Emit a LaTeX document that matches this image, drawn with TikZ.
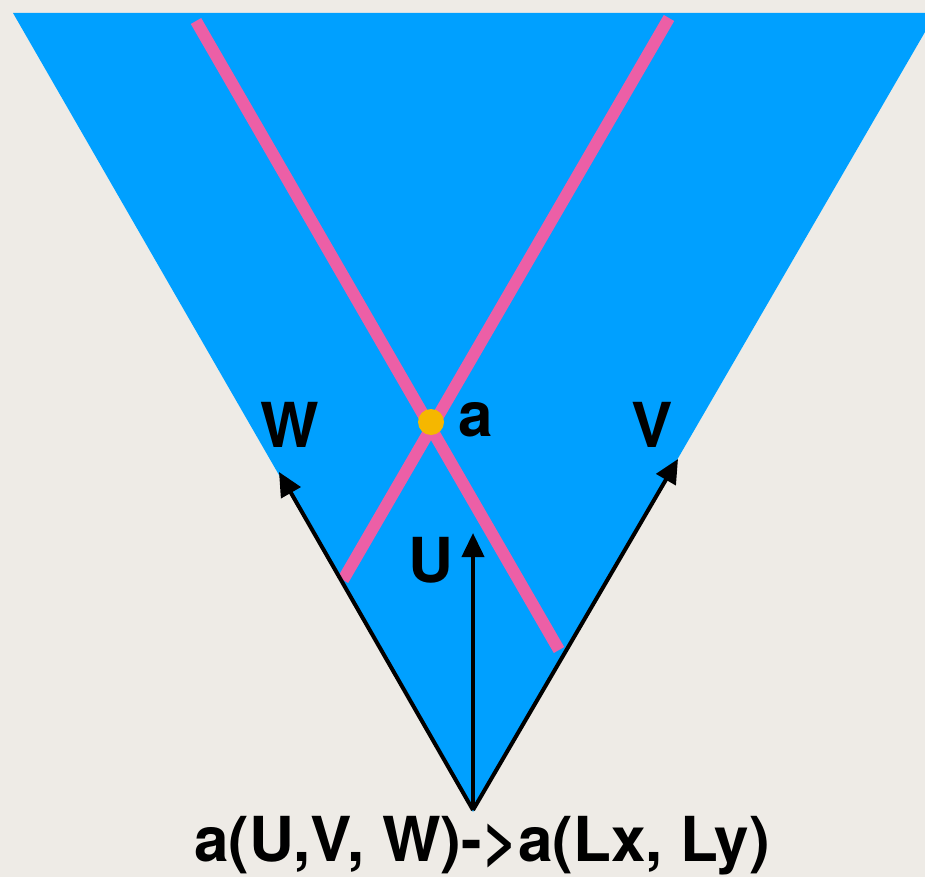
\documentclass[tikz,border=0pt]{standalone}
\usepackage{fontspec}
\setmainfont{TeX Gyre Heros}
\usetikzlibrary{arrows.meta}
\definecolor{paper}{HTML}{EEEBE6}
\definecolor{skyblue}{HTML}{00A0FF}
\definecolor{pinkline}{HTML}{EC5FA6}
\definecolor{dotorange}{HTML}{F5B700}
\tikzset{
  vec/.style={line width=4pt, -{Triangle[length=24pt,width=22pt]}},
  pinkbar/.style={pinkline, line width=12pt},
  lbl/.style={font=\fontsize{62}{62}\selectfont\bfseries, inner sep=0pt}
}
\begin{document}
\begin{tikzpicture}[x=1pt,y=-1pt]
\fill[paper] (0,0) rectangle (925,877);
\useasboundingbox (0,0) rectangle (925,877);
\fill[skyblue] (13,13) -- (936,13) -- (473,812) -- cycle;
\coordinate (p1a) at (196,21);
\coordinate (p1b) at (559,650);
\coordinate (p2a) at (669,18);
\coordinate (p2b) at (343,580);
\draw[pinkbar] (p1a) -- (p1b);
\draw[pinkbar] (p2a) -- (p2b);
\node[circle, fill=dotorange, minimum size=26pt, inner sep=0pt] (dot) at (431,422) {};
\coordinate (o) at (473,810);
\coordinate (wt) at (279,472);
\coordinate (ut) at (473,533);
\coordinate (vt) at (678,459);
\draw[vec] (o) -- (wt);
\draw[vec] (o) -- (ut);
\draw[vec] (o) -- (vt);
\node[lbl] (W) at (290,425) {W};
\node[lbl] (a) at (476,420) {a};
\node[lbl] (V) at (652,425) {V};
\node[lbl] (U) at (431,560) {U};
\node[lbl] (eq) at (482,846) {a(U,V, W)->a(Lx, Ly)};
\end{tikzpicture}
\end{document}
